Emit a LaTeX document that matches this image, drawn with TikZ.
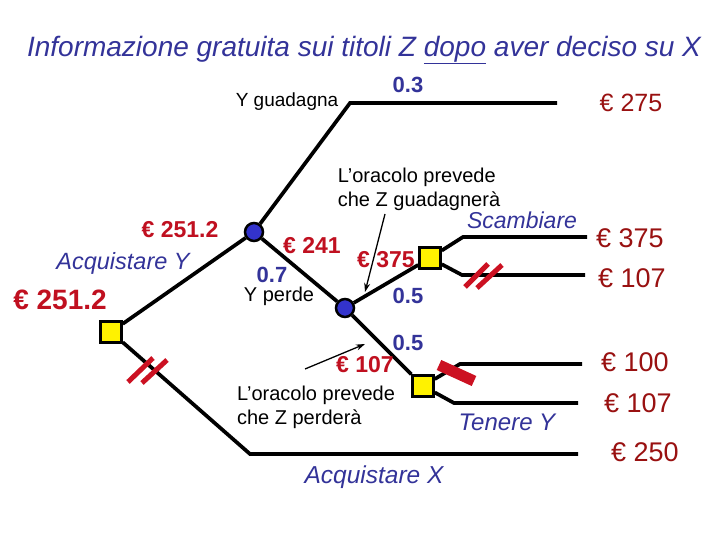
\documentclass[tikz,border=0pt]{standalone}
\usepackage{fontspec}
\setmainfont{Liberation Sans}
\usetikzlibrary{arrows.meta}
\definecolor{tblue}{RGB}{51,51,153}
\definecolor{bred}{RGB}{192,16,32}
\definecolor{pred}{RGB}{153,17,17}
\definecolor{nblue}{RGB}{51,51,204}
\definecolor{slashred}{RGB}{204,17,34}
\begin{document}
\begin{tikzpicture}[x=1pt,y=-1pt,
  branch/.style={line width=3.7pt},
  chance/.style={circle, fill=nblue, draw=black, line width=2.5pt, minimum size=18pt, inner sep=0pt},
  decision/.style={rectangle, fill=yellow, draw=black, line width=2.5pt, minimum size=21pt, inner sep=0pt},
  ttl/.style={font=\fontsize{28}{32}\selectfont\itshape, text=tblue, inner sep=0pt},
  pay/.style={font=\fontsize{27}{32}\selectfont, text=pred, inner sep=0pt},
  ev/.style={font=\fontsize{23}{27}\selectfont\bfseries, text=bred, inner sep=0pt},
  prob/.style={font=\fontsize{22}{26}\selectfont\bfseries, text=tblue, inner sep=0pt},
  lab/.style={font=\fontsize{20}{24}\selectfont, text=black, align=left, inner sep=0pt},
  act/.style={font=\fontsize{24}{28}\selectfont\itshape, text=tblue, inner sep=0pt},
  slash/.style={line width=5pt, draw=slashred},
  pointer/.style={line width=1.3pt, -{Stealth[length=9pt,width=6pt]}}]
\useasboundingbox (0,0) rectangle (720,540);
\fill[white] (0,0) rectangle (720,540);
% title
\node[ttl] (title) at (364,50) {Informazione gratuita sui titoli Z \underline{dopo} aver deciso su X};
% decision and chance nodes
\node[decision] (D0) at (111,332) {};
\node[chance] (C1) at (254,232) {};
\node[chance] (C2) at (345,308) {};
\node[decision] (D1) at (430,258) {};
\node[decision] (D2) at (423,386) {};
% corner coordinates
\coordinate (t1) at (350,103); \coordinate (t1e) at (557,103);
\coordinate (u1) at (463,237); \coordinate (u1e) at (587,237);
\coordinate (l1) at (462,275); \coordinate (l1e) at (585,275);
\coordinate (u2) at (460,364); \coordinate (u2e) at (582,364);
\coordinate (l2) at (454,403); \coordinate (l2e) at (578,403);
\coordinate (l0) at (250,454); \coordinate (l0e) at (578,454);
% branches
\draw[branch] (D0) -- (C1);
\draw[branch] (C1) -- (t1) -- (t1e);
\draw[branch] (C1) -- (C2);
\draw[branch] (C2) -- (D1);
\draw[branch] (C2) -- (D2);
\draw[branch] (D1) -- (u1) -- (u1e);
\draw[branch] (D1) -- (l1) -- (l1e);
\draw[branch] (D2) -- (u2) -- (u2e);
\draw[branch] (D2) -- (l2) -- (l2e);
\draw[branch] (D0) -- (l0) -- (l0e);
% pruning marks
\draw[slash] (128,382) -- (153,358);
\draw[slash] (142,383) -- (167,360);
\draw[slash] (465,287) -- (488,264);
\draw[slash] (477,288) -- (502,265);
\draw[line width=11pt, slashred] (439,365) -- (474,381);
% texts
\node[lab, font=\fontsize{19}{22}\selectfont] (yg) at (287,102) {Y guadagna};
\node[prob] (p03) at (408,85) {0.3};
\node[pay, font=\fontsize{25}{30}\selectfont] (v275) at (631,103) {€ 275};
\node[lab] (or1) at (419,189) {L’oracolo prevede\\che Z guadagnerà};
\node[act, font=\fontsize{23}{27}\selectfont\itshape] (scamb) at (522,220) {Scambiare};
\node[pay] (v375) at (630,238) {€ 375};
\node[pay] (v107a) at (632,278) {€ 107};
\node[ev] (e251a) at (180,230) {€ 251.2};
\node[act, font=\fontsize{23.5}{27}\selectfont\itshape] (acqY) at (123,263) {Acquistare Y};
\node[ev, font=\fontsize{28}{32}\selectfont\bfseries] (e251b) at (60,300) {€ 251.2};
\node[ev] (e241) at (312,246) {€ 241};
\node[prob] (p07) at (272,275) {0.7};
\node[lab] (yp) at (279,296) {Y perde};
\node[ev] (e375) at (386,260) {€ 375};
\node[prob] (p05a) at (408,296) {0.5};
\node[prob] (p05b) at (408,343) {0.5};
\node[ev] (e107) at (365,365) {€ 107};
\node[lab] (or2) at (316,407) {L’oracolo prevede\\che Z perderà};
\node[act] (ten) at (507,422) {Tenere Y};
\node[pay] (v100) at (635,362) {€ 100};
\node[pay] (v107b) at (638,403) {€ 107};
\node[act, font=\fontsize{24.5}{28}\selectfont\itshape] (acqX) at (374,477) {Acquistare X};
\node[pay] (v250) at (645,452) {€ 250};
% oracle pointers
\coordinate (a1s) at (385,214); \coordinate (a1e) at (365,292);
\coordinate (a2s) at (305,369); \coordinate (a2e) at (365,344);
\draw[pointer] (a1s) -- (a1e);
\draw[pointer] (a2s) -- (a2e);
\end{tikzpicture}
\end{document}
